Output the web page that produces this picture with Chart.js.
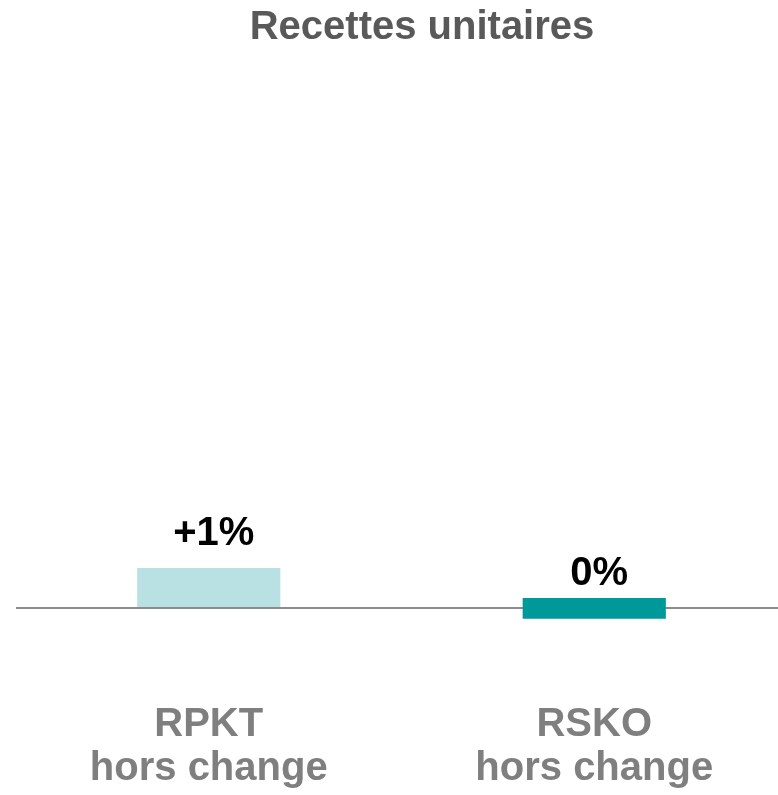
<!DOCTYPE html>
<html lang="fr">
<head>
<meta charset="utf-8">
<title>Recettes unitaires</title>
<script src="https://cdn.jsdelivr.net/npm/chart.js@4/dist/chart.umd.min.js"></script>
<style>
  html, body { margin: 0; padding: 0; background: #fff; overflow: hidden; }
  #wrap { width: 787px; height: 795px; position: relative; }
</style>
</head>
<body>
<div id="wrap"><canvas id="recettes"></canvas></div>
<script>
// données
const categories = [["RPKT", "hors change"], ["RSKO", "hors change"]];
const values = [1, 0]; // variation en %
const valueLabels = ["+1%", "0%"];
// étendue dessinée des barres (la barre à 0% est une petite barre centrée sur zéro)
const barRanges = [[0, 1], [-0.27, 0.25]];
const barColors = ["#b9e0e3", "#00999a"];

// titre + étiquettes de valeur
const labelsPlugin = {
  id: "labels",
  afterDraw(chart) {
    const ctx = chart.ctx;
    const yScale = chart.scales.y;
    ctx.save();
    ctx.fillStyle = "#595959";
    ctx.font = "bold 40px 'Liberation Sans', Arial, sans-serif";
    ctx.textAlign = "center";
    ctx.textBaseline = "alphabetic";
    ctx.fillText("Recettes unitaires", 422, 39);

    ctx.fillStyle = "#000";
    ctx.font = "bold 40px 'Liberation Sans', Arial, sans-serif";
    chart.getDatasetMeta(0).data.forEach((bar, i) => {
      const y = yScale.getPixelForValue(values[i]) - 23;
      ctx.fillText(valueLabels[i], bar.x + 5, y);
    });
    ctx.restore();
  },
};

const ctx = document.getElementById("recettes").getContext("2d");
const myChart = new Chart(ctx, {
  type: "bar",
  data: {
    labels: categories,
    datasets: [
      {
        data: barRanges,
        backgroundColor: barColors,
        borderWidth: 0,
        categoryPercentage: 1,
        barPercentage: 0.3714,
      },
    ],
  },
  options: {
    responsive: true,
    maintainAspectRatio: false,
    animation: false,
    layout: { padding: { top: 128, left: 16, right: 0, bottom: 0 } },
    plugins: {
      legend: { display: false },
      tooltip: { enabled: false },
      title: { display: false },
    },
    scales: {
      x: {
        afterFit: (scale) => { scale.height = 107; },
        grid: { display: false, drawTicks: false },
        border: { display: false },
        ticks: {
          color: "#7f7f7f",
          padding: 15,
          maxRotation: 0,
          autoSkip: false,
          font: { family: "'Liberation Sans', Arial, sans-serif", size: 40, weight: "bold", lineHeight: 1.1 },
        },
      },
      y: {
        min: -2,
        max: 12,
        ticks: { display: false, stepSize: 1 },
        border: { display: false },
        grid: {
          drawTicks: false,
          lineWidth: 2,
          color: (c) => (c.tick && c.tick.value === 0 ? "#8c8c8c" : "rgba(0,0,0,0)"),
        },
      },
    },
  },
  plugins: [labelsPlugin],
});
</script>
</body>
</html>
